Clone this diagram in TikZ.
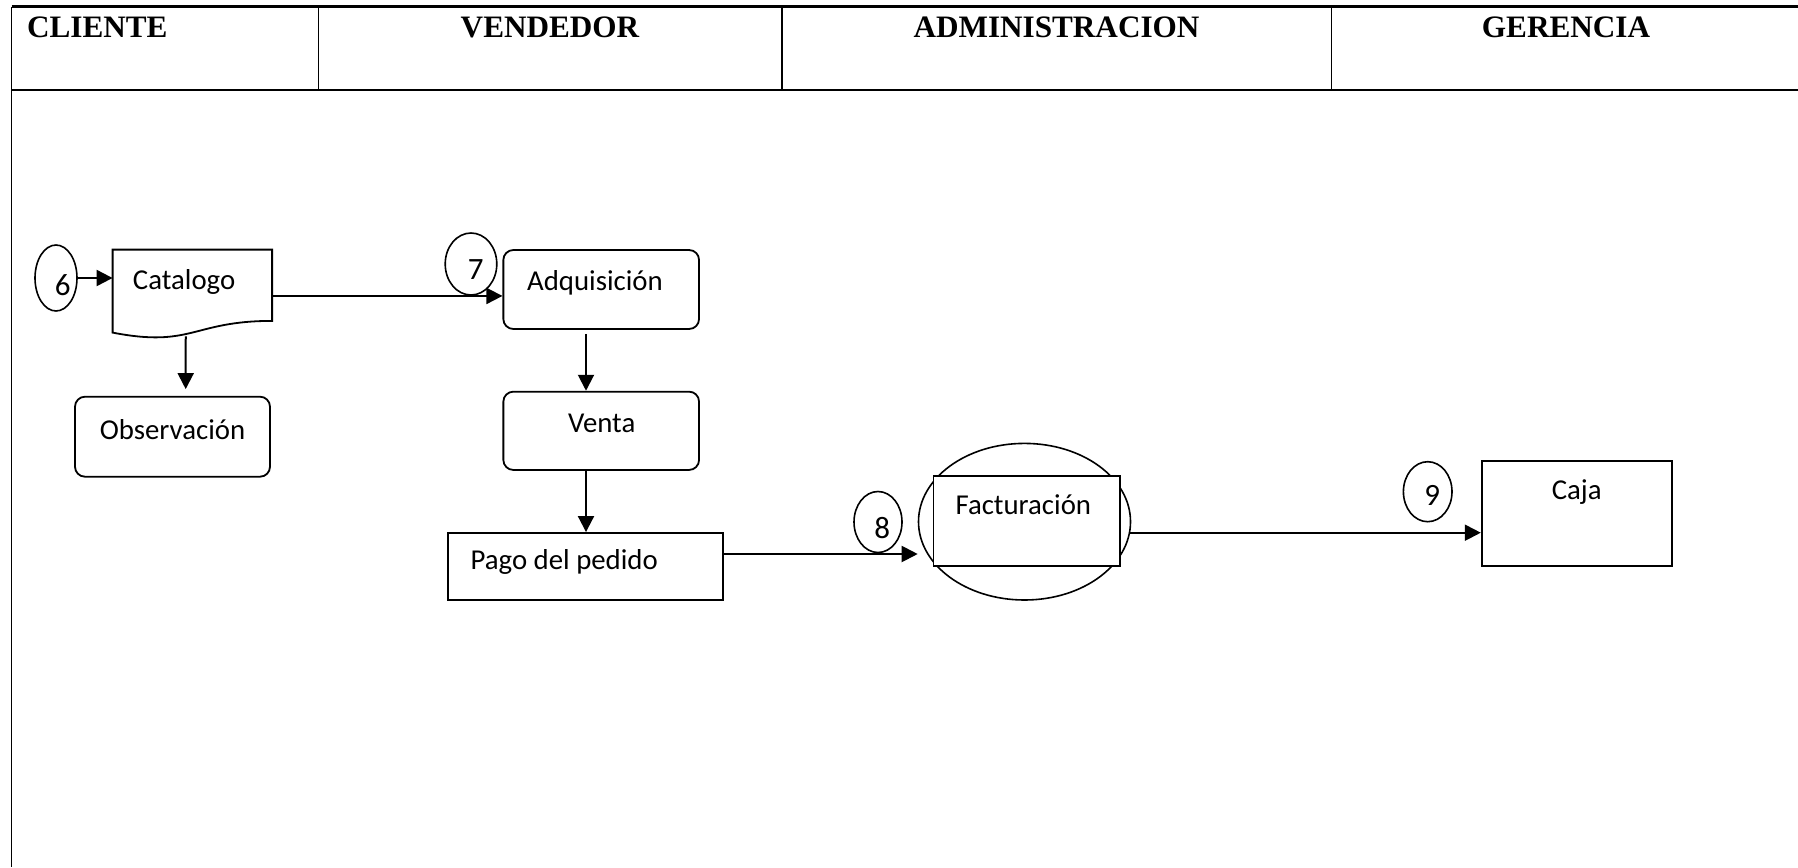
\documentclass[tikz,border=0pt]{standalone}
\usepackage{fontspec}
\setmainfont{Carlito}
\newfontfamily\hdrfont{Liberation Serif}
\usetikzlibrary{arrows.meta,shapes.geometric,calc}
\tikzset{
  lane/.style={line width=0.65pt},
  lanethick/.style={line width=1.3pt},
  hdr/.style={font=\hdrfont\bfseries\fontsize{15.6}{18}\selectfont, inner sep=0pt},
  txt/.style={font=\fontsize{14.4}{17}\selectfont, inner sep=0pt},
  numtxt/.style={font=\fontsize{15.5}{18}\selectfont, inner sep=0pt},
  rbox/.style={draw, line width=0.9pt, rounded corners=5pt, inner sep=0pt},
  sbox/.style={draw, line width=0.9pt, inner sep=0pt},
  num/.style={draw, ellipse, line width=0.8pt, inner sep=0pt},
  arr/.style={line width=1pt, -{Triangle[length=8pt,width=8pt]}},
}
\begin{document}
\begin{tikzpicture}[x=0.5pt, y=-0.5pt]
\useasboundingbox (0,0) rectangle (1798,867);
% table
\draw[lanethick] (11.7,6.7) -- (1798,6.7);
\draw[lanethick] (11.7,90) -- (1798,90);
\draw[lane] (11.7,6.7) -- (11.7,867);
\draw[lane] (318.6,6.7) -- (318.6,90);
\draw[lane] (782,6.7) -- (782,90);
\draw[lane] (1331.5,6.7) -- (1331.5,90);
\node[hdr, anchor=base west] (hC) at (26.7,37.7) {CLIENTE};
\node[hdr, anchor=base] (hV) at (550,37.7) {VENDEDOR};
\node[hdr, anchor=base] (hA) at (1056.5,37.7) {ADMINISTRACION};
\node[hdr, anchor=base] (hG) at (1566,37.7) {GERENCIA};

% catalogo (document shape)
\node[minimum width=79.35pt, minimum height=44.45pt, inner sep=0pt,
      label={[txt, xshift=-4.1pt, yshift=6.4pt]center:Catalogo}] (cat) at (192.35,294.45) {};
\draw[line width=0.9pt] (cat.north west) -- (cat.north east) -- ($(cat.north east)+(0,71.3)$)
  .. controls ($(cat.north)+(0,71.3)$) and ($(cat.north)+(0,98.5)$) .. ($(cat.north west)+(0,83)$) -- cycle;

\node[rbox, minimum width=97.5pt, minimum height=40pt,
      label={[txt, yshift=3.35pt]center:Observación}] (obs) at (172.5,436.7) {};
\node[rbox, minimum width=97.85pt, minimum height=39.5pt,
      label={[txt, xshift=-3.1pt, yshift=3.1pt]center:Adquisición}] (adq) at (601.2,289.5) {};
\node[rbox, minimum width=97.85pt, minimum height=39.15pt,
      label={[txt, xshift=0.25pt, yshift=3.7pt]center:Venta}] (venta) at (601.2,430.8) {};
\node[sbox, minimum width=137.5pt, minimum height=33.35pt,
      label={[txt, xshift=-10.65pt, yshift=2.15pt]center:Pago del pedido}] (pago) at (585.5,566.3) {};
\node[draw, ellipse, line width=0.8pt, minimum width=106pt, minimum height=78.3pt, inner sep=0pt] (factE) at (1024.5,521.7) {};
\node[sbox, fill=white, minimum width=93.3pt, minimum height=45pt,
      label={[txt, xshift=-1.7pt, yshift=8pt]center:Facturación}] (factR) at (1026.7,521) {};
\node[sbox, minimum width=95pt, minimum height=52.7pt,
      label={[txt, yshift=10.8pt]center:Caja}] (caja) at (1576.7,513.3) {};

% numbered circles
\node[num, minimum width=21pt, minimum height=33pt,
      label={[numtxt, xshift=3.35pt, yshift=-3.5pt]center:6}] (c6) at (56,278) {};
\node[num, minimum width=25.8pt, minimum height=31pt,
      label={[numtxt, xshift=2.35pt, yshift=-3pt]center:7}] (c7) at (471,264) {};
\node[num, minimum width=24pt, minimum height=30.5pt,
      label={[numtxt, xshift=2.15pt, yshift=-3.15pt]center:8}] (c8) at (878,522) {};
\node[num, minimum width=24.3pt, minimum height=30pt,
      label={[numtxt, xshift=2.3pt, yshift=-1.65pt]center:9}] (c9) at (1427.7,491.7) {};

% connectors
\draw[arr] (c6.east) -- (c6.east -| cat.west);
\coordinate (co1) at ($(cat.south)+(-6.6,-2.9)$);
\coordinate (co2) at ($(obs.north)+(13.2,-6.7)$);
\draw[arr] (co1) -- (co2);
\coordinate (a1) at ($(cat.east)+(0,1.5)$);
\draw[arr] (a1) -- (a1 -| adq.west);
\coordinate (a2) at ($(adq.south)+(-15.2,4)$);
\draw[arr] (a2) -- (a2 |- venta.north);
\coordinate (a3) at ($(venta.south)+(-15.2,0)$);
\draw[arr] (a3) -- (a3 |- pago.north);
\coordinate (p1) at ($(pago.east)+(0,-12.3)$);
\draw[arr] (p1) -- (p1 -| factE.west);
\coordinate (f1) at ($(factE.east)+(-1,11)$);
\draw[arr] (f1) -- (f1 -| caja.west);
\end{tikzpicture}
\end{document}
